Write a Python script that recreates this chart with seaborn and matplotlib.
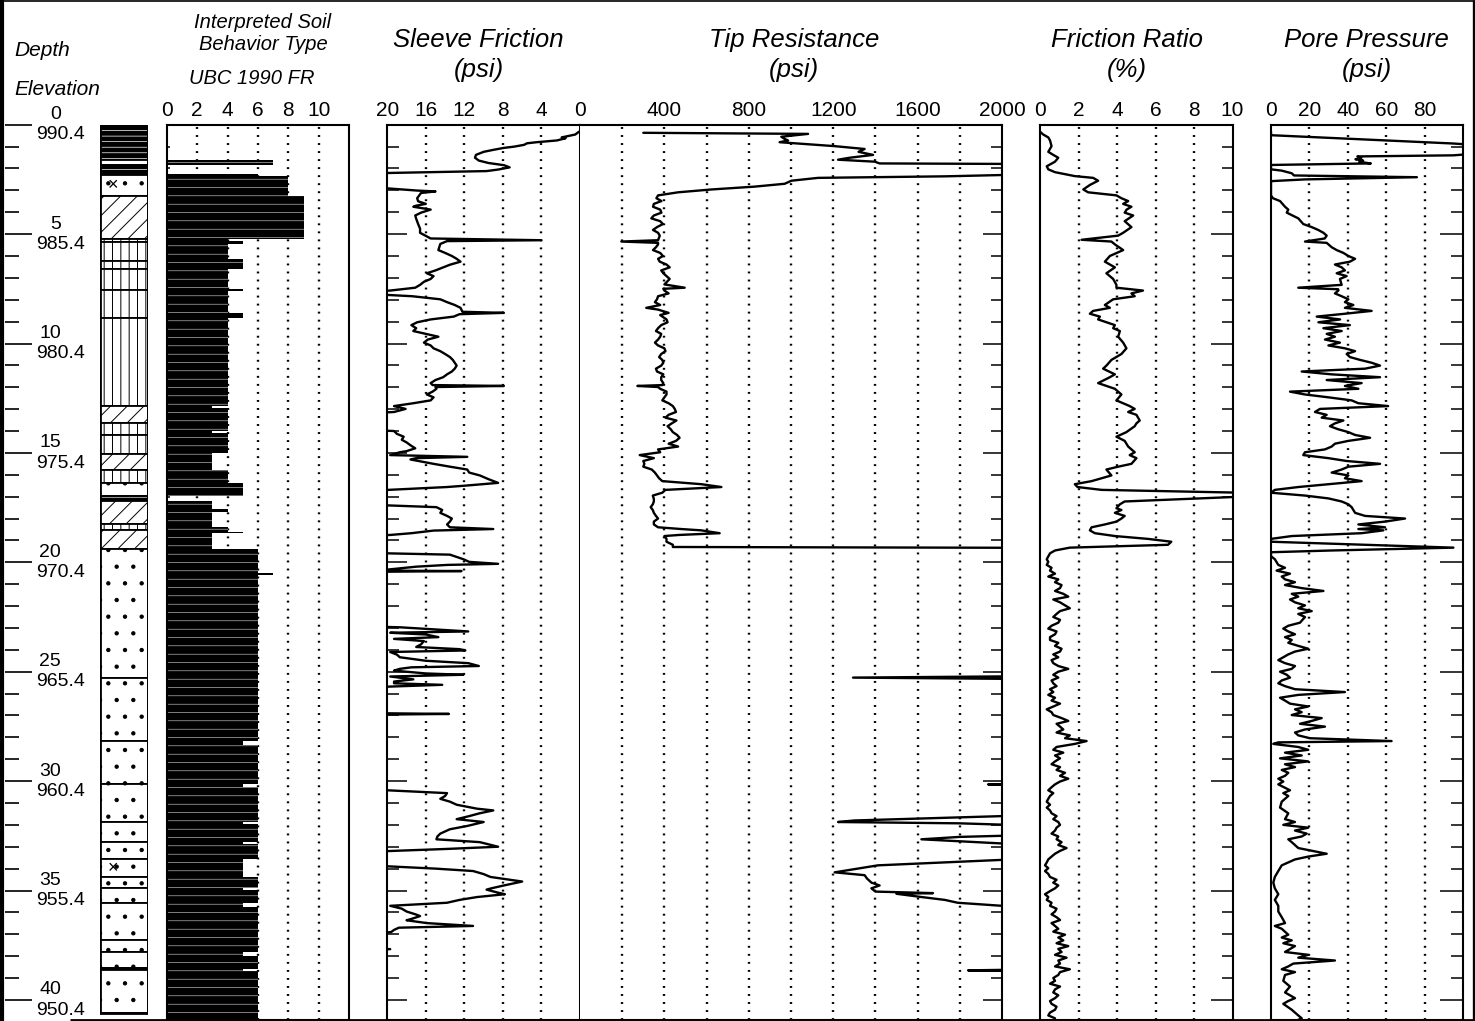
import numpy as np
import pandas as pd
import matplotlib
matplotlib.use("Agg")
import matplotlib.pyplot as plt
from matplotlib.ticker import MultipleLocator
from matplotlib.lines import Line2D
import seaborn as sns

# ---------------------------------------------------------------- data
ground_elevation = 990.4
depth_label_ft = [0, 5, 10, 15, 20, 25, 30, 35, 40]

# lithology column (depth ft)
litho_top = [0.00, 1.60, 1.86, 2.30, 3.28, 5.23, 5.34, 6.25, 6.60, 7.55, 8.82,
             12.86, 13.65, 14.18, 15.05, 15.77, 16.37, 16.95, 17.22, 18.27, 18.54,
             19.38, 25.27, 28.17, 30.15, 31.87, 32.79, 33.58, 34.38, 34.90, 35.57,
             37.28, 37.81, 38.55, 38.65]
litho_bot = litho_top[1:] + [40.58]
litho_kind = ["clay", "sand", "clay", "gravel", "silty", "silt", "silt", "silt", "silt", "silt", "silt",
              "silty", "silt", "silt", "silty", "silt", "sand", "clay", "silty", "silt", "silty",
              "sand", "sand", "sand", "sand", "sand", "sand", "gravel", "sand", "sand", "sand",
              "sand", "sand", "clay", "sand"]

# interpreted soil behaviour type (UBC 1990 FR)
sbt_top = [1.60, 2.27, 2.36, 3.28, 5.23, 5.30, 5.43, 6.15, 6.60, 7.50, 7.58, 8.62, 8.82,
           12.86, 12.95, 13.98, 14.10, 15.00, 15.77, 16.37, 17.22, 17.55, 17.68, 18.40,
           18.60, 18.67, 19.38, 20.48, 20.56, 28.17, 28.35, 30.15, 30.28, 31.87, 31.95,
           32.79, 32.87, 33.58, 34.38, 34.90, 34.98, 35.57, 35.75, 37.81, 38.00, 38.60, 38.66]
sbt_bot = [1.86, 2.36, 3.28, 5.23, 5.30, 5.43, 6.15, 6.60, 7.50, 7.58, 8.62, 8.82, 12.86,
           12.95, 13.98, 14.10, 15.00, 15.77, 16.37, 16.95, 17.55, 17.68, 18.40, 18.60,
           18.67, 19.38, 20.48, 20.56, 28.17, 28.35, 30.15, 30.28, 31.87, 31.95, 32.79,
           32.87, 33.58, 34.38, 34.90, 34.98, 35.57, 35.75, 37.81, 38.00, 38.60, 38.66, 41.0]
sbt_zone = [7, 6, 8, 9, 4, 5, 4, 5, 4, 5, 4, 5, 4,
            3, 4, 3, 4, 3, 4, 5, 3, 4, 3, 4,
            5, 3, 6, 7, 6, 5, 6, 5, 6, 5, 6,
            5, 6, 5, 6, 5, 6, 5, 6, 5, 6, 5, 6]

sbt_ticks = [0, 2, 4, 6, 8, 10]
sleeve_ticks = [20, 16, 12, 8, 4, 0]
tip_ticks = [400, 800, 1200, 1600, 2000]
fr_ticks = [0, 2, 4, 6, 8, 10]
pp_ticks = [0, 20, 40, 60, 80]

# (depth ft, sleeve friction psi)
sleeve_friction = [
    (0.32, 0.1), (0.45, 0.5), (0.58, 1.9), (0.62, 1.5), (0.72, 2.4), (0.80, 4.5), (0.85, 5.5),
    (0.92, 5.8), (1.00, 6.8), (1.06, 7.9), (1.15, 9.0), (1.24, 10.0), (1.38, 10.8), (1.51, 10.9),
    (1.64, 10.5), (1.75, 9.5), (1.85, 7.9), (1.95, 7.3), (2.05, 8.5), (2.12, 9.7), (2.25, 25),
    (2.80, 25), (2.91, 20), (3.01, 16.9), (3.05, 15.0), (3.12, 16.5), (3.36, 16.9), (3.50, 16.8),
    (3.62, 16.0), (3.70, 17.0), (3.75, 17.3), (3.88, 15.5), (4.02, 16.5), (4.15, 17.1),
    (4.30, 17.0), (4.54, 16.8), (4.75, 16.6), (4.94, 16.6), (5.20, 15.5), (5.28, 4.0),
    (5.32, 13.8), (5.45, 14.5), (5.73, 14.7), (5.86, 14.0), (6.00, 13.3), (6.13, 12.8),
    (6.26, 12.4), (6.40, 13.5), (6.52, 14.2), (6.66, 15.0), (6.79, 15.9), (6.92, 15.2),
    (7.05, 15.5), (7.18, 16.2), (7.32, 16.6), (7.45, 17.1), (7.58, 19.7), (7.68, 25),
    (7.78, 20), (7.84, 17.4), (7.98, 14.5), (8.11, 13.8), (8.24, 13.0), (8.37, 12.4),
    (8.55, 12.2), (8.60, 7.9), (8.66, 12.5), (8.77, 13.1), (8.90, 15.5), (9.03, 16.9),
    (9.16, 17.5), (9.30, 17.0), (9.43, 17.3), (9.56, 16.0), (9.69, 14.7), (9.82, 15.8),
    (9.96, 16.2), (10.09, 15.5), (10.22, 15.2), (10.35, 14.5), (10.48, 14.0), (10.62, 13.5),
    (10.75, 13.2), (10.88, 13.0), (11.01, 12.8), (11.15, 13.0), (11.28, 13.3), (11.41, 13.8),
    (11.54, 14.2), (11.67, 15.0), (11.81, 15.5), (11.90, 15.3), (11.94, 7.9), (11.99, 15.0),
    (12.07, 14.9), (12.20, 15.3), (12.33, 15.9), (12.46, 15.2), (12.60, 15.5), (12.73, 17.3),
    (12.86, 19.3), (12.99, 18.1), (13.13, 19.3), (13.26, 25), (13.90, 25), (14.00, 19.3),
    (14.13, 19.0), (14.26, 18.3), (14.40, 18.5), (14.52, 18.0), (14.65, 17.6), (14.79, 17.1),
    (14.92, 18.0), (14.97, 18.7), (15.10, 19.7), (15.18, 11.7), (15.24, 17.0), (15.30, 17.6),
    (15.50, 15.2), (15.63, 13.5), (15.76, 11.7), (15.90, 11.5), (16.03, 10.4), (16.20, 9.5),
    (16.37, 8.5), (16.50, 12.0), (16.56, 13.8), (16.69, 19.9), (16.75, 25), (17.30, 25),
    (17.40, 19.9), (17.48, 14.9), (17.61, 14.3), (17.74, 14.5), (17.88, 13.8), (18.00, 13.3),
    (18.14, 13.5), (18.27, 13.8), (18.40, 13.5), (18.48, 9.0), (18.55, 15.2), (18.67, 17.5),
    (18.75, 19.7), (18.85, 25), (19.50, 25), (19.59, 20), (19.65, 13.5), (19.86, 12.1),
    (19.98, 11.5), (20.07, 8.5), (20.12, 13.8), (20.20, 17.0), (20.33, 19.9), (20.37, 25),
    (20.40, 12.3), (20.45, 25), (22.90, 25), (22.97, 18.7), (23.03, 16.5), (23.10, 14.0),
    (23.16, 11.6), (23.22, 19.7), (23.30, 16.0), (23.42, 14.7), (23.50, 19.3), (23.60, 16.2),
    (23.75, 16.5), (23.87, 17.0), (23.97, 12.5), (24.03, 11.9), (24.10, 19.7), (24.22, 19.0),
    (24.34, 18.7), (24.50, 16.0), (24.61, 11.6), (24.74, 10.5), (24.80, 17.5), (24.87, 18.7),
    (24.95, 19.3), (25.08, 16.0), (25.14, 12.1), (25.22, 19.7), (25.35, 17.3), (25.45, 19.3),
    (25.53, 19.3), (25.60, 14.3), (25.68, 19.7), (25.80, 25), (26.88, 25), (26.93, 13.6),
    (26.98, 25), (30.30, 25), (30.42, 20), (30.55, 13.8), (30.68, 14.0), (30.81, 14.5),
    (30.94, 13.5), (31.08, 12.8), (31.26, 10.7), (31.34, 9.0), (31.47, 10.4), (31.60, 11.5),
    (31.74, 12.8), (31.87, 10.0), (32.05, 11.7), (32.20, 13.5), (32.40, 14.5), (32.53, 14.8),
    (32.66, 14.9), (32.79, 10.4), (33.00, 8.5), (33.10, 13.8), (33.20, 19.9), (33.28, 25),
    (33.80, 25), (33.90, 19.7), (34.00, 15.0), (34.11, 11.1), (34.25, 10.0), (34.38, 9.3),
    (34.59, 6.0), (34.77, 7.9), (34.90, 9.2), (34.96, 9.7), (35.10, 8.5), (35.17, 7.8),
    (35.30, 10.7), (35.43, 12.5), (35.56, 13.8), (35.70, 19.7), (35.83, 18.5), (35.96, 18.0),
    (36.10, 17.0), (36.17, 16.6), (36.30, 17.5), (36.36, 18.0), (36.49, 15.9), (36.62, 11.1),
    (36.70, 18.8), (36.80, 19.3), (36.90, 19.6), (37.10, 25), (37.60, 25), (37.68, 19.7),
    (37.75, 25), (40.90, 25)]

# (depth ft, tip resistance psi)
tip_resistance = [
    (0.37, 300), (0.42, 1081), (0.55, 954), (0.65, 970), (0.72, 986), (0.80, 946), (0.98, 1207),
    (1.11, 1349), (1.24, 1320), (1.38, 1389), (1.51, 1278), (1.60, 1223), (1.69, 1397),
    (1.77, 1420), (1.80, 2200), (2.28, 2200), (2.30, 2000), (2.36, 1729), (2.43, 1128),
    (2.56, 1002), (2.70, 970), (2.83, 828), (2.96, 623), (3.09, 465), (3.23, 370), (3.36, 362),
    (3.49, 386), (3.62, 350), (3.75, 346), (3.88, 380), (4.02, 386), (4.15, 350), (4.28, 338),
    (4.41, 380), (4.54, 393), (4.68, 365), (4.81, 346), (4.94, 370), (5.07, 378), (5.28, 370),
    (5.34, 196), (5.40, 370), (5.47, 370), (5.60, 360), (5.73, 346), (5.86, 380), (6.00, 393),
    (6.13, 370), (6.26, 378), (6.39, 410), (6.52, 425), (6.66, 385), (6.79, 395), (6.92, 410),
    (7.05, 425), (7.30, 400), (7.45, 496), (7.50, 395), (7.58, 400), (7.71, 420), (7.84, 370),
    (7.98, 365), (8.11, 355), (8.24, 380), (8.37, 314), (8.45, 370), (8.60, 420), (8.70, 380),
    (8.90, 410), (9.03, 415), (9.16, 385), (9.30, 370), (9.43, 360), (9.56, 385), (9.69, 380),
    (9.82, 370), (9.96, 355), (10.09, 370), (10.22, 400), (10.35, 405), (10.48, 385),
    (10.62, 375), (10.75, 390), (10.88, 395), (11.01, 385), (11.15, 360), (11.28, 365),
    (11.41, 395), (11.54, 385), (11.67, 385), (11.81, 395), (11.90, 390), (11.94, 272),
    (11.99, 370), (12.07, 380), (12.20, 410), (12.33, 410), (12.46, 400), (12.60, 390),
    (12.73, 420), (12.86, 440), (12.99, 449), (13.13, 455), (13.26, 420), (13.39, 405),
    (13.52, 457), (13.65, 435), (13.78, 415), (13.92, 430), (14.05, 440), (14.18, 460),
    (14.31, 472), (14.45, 455), (14.58, 420), (14.71, 465), (14.84, 370), (14.97, 380),
    (15.10, 283), (15.24, 350), (15.37, 300), (15.50, 305), (15.63, 300), (15.76, 340),
    (15.90, 355), (16.03, 365), (16.16, 375), (16.29, 390), (16.43, 575), (16.56, 670),
    (16.69, 405), (16.82, 390), (16.95, 345), (17.10, 350), (17.22, 350), (17.35, 345),
    (17.48, 335), (17.61, 345), (17.74, 350), (17.88, 360), (18.00, 370), (18.14, 350),
    (18.27, 350), (18.40, 370), (18.48, 480), (18.54, 575), (18.67, 662), (18.75, 470),
    (18.80, 400), (18.93, 410), (19.06, 410), (19.20, 440), (19.30, 440), (19.34, 2200),
    (25.20, 2200), (25.27, 1294), (25.34, 2200), (30.10, 2200), (30.15, 1934), (30.20, 2200),
    (31.45, 2200), (31.60, 2000), (31.80, 1300), (31.87, 1223), (31.93, 1800), (32.05, 2200),
    (32.45, 2200), (32.55, 1800), (32.66, 1618), (32.85, 2000), (32.95, 2200), (33.50, 2200),
    (33.60, 2000), (33.85, 1412), (34.17, 1207), (34.30, 1349), (34.45, 1360), (34.64, 1381),
    (34.77, 1420), (34.90, 1381), (35.05, 1400), (35.12, 1673), (35.15, 1500), (35.30, 1620),
    (35.43, 1729), (35.56, 1790), (35.70, 2000), (35.78, 2200), (38.60, 2200), (38.65, 1839),
    (38.70, 2200), (40.90, 2200)]

# (depth ft, friction ratio %)
friction_ratio = [
    (0.32, 0.0), (0.45, 0.17), (0.58, 0.43), (0.72, 0.52), (0.98, 0.60), (1.24, 0.43),
    (1.38, 0.69), (1.51, 0.95), (1.69, 0.78), (1.90, 0.35), (2.04, 0.43), (2.17, 0.78),
    (2.35, 1.81), (2.43, 2.76), (2.56, 3.02), (2.75, 2.60), (2.96, 2.25), (3.09, 2.50),
    (3.23, 3.97), (3.36, 4.23), (3.49, 4.58), (3.62, 4.32), (3.75, 4.75), (3.88, 4.50),
    (4.02, 4.40), (4.15, 4.84), (4.41, 4.40), (4.68, 4.75), (4.94, 4.32), (5.07, 4.06),
    (5.26, 2.16), (5.34, 3.71), (5.47, 3.89), (5.73, 4.32), (6.00, 3.63), (6.26, 3.37),
    (6.52, 3.89), (6.79, 3.45), (7.05, 3.80), (7.32, 3.97), (7.45, 3.97), (7.58, 5.35),
    (7.71, 4.75), (7.84, 4.92), (7.98, 3.80), (8.24, 3.37), (8.37, 3.63), (8.51, 2.76),
    (8.64, 2.59), (8.77, 3.11), (8.90, 3.02), (9.03, 3.45), (9.16, 3.89), (9.30, 3.80),
    (9.43, 4.15), (9.69, 4.06), (9.96, 4.32), (10.22, 4.49), (10.48, 4.23), (10.75, 3.71),
    (11.01, 3.45), (11.15, 3.28), (11.41, 3.89), (11.54, 3.63), (11.81, 3.02), (11.94, 3.45),
    (12.07, 3.89), (12.33, 4.23), (12.60, 3.97), (12.86, 4.66), (12.99, 4.92), (13.13, 4.58),
    (13.26, 5.01), (13.52, 5.18), (13.65, 5.01), (13.78, 4.92), (14.05, 4.49), (14.26, 3.97),
    (14.45, 4.40), (14.71, 4.58), (14.97, 4.92), (15.10, 4.66), (15.24, 5.01), (15.50, 4.75),
    (15.63, 4.06), (15.76, 3.45), (16.03, 3.71), (16.29, 2.68), (16.43, 1.81), (16.56, 1.95),
    (16.69, 3.20), (16.82, 10.5), (17.00, 10.5), (17.22, 4.40), (17.35, 4.15), (17.53, 3.97),
    (17.61, 4.23), (17.74, 3.89), (17.88, 4.40), (18.00, 4.23), (18.14, 3.97), (18.27, 3.37),
    (18.40, 2.68), (18.54, 2.59), (18.67, 2.85), (18.80, 3.89), (18.93, 5.61), (19.06, 6.82),
    (19.20, 6.65), (19.33, 1.55), (19.46, 0.78), (19.59, 0.52), (19.86, 0.35), (19.98, 0.43),
    (20.12, 0.35), (20.25, 0.60), (20.38, 0.52), (20.52, 0.78), (20.65, 0.43), (20.78, 0.95),
    (20.91, 0.78), (21.04, 1.12), (21.18, 1.04), (21.31, 0.78), (21.44, 1.21), (21.57, 1.47),
    (21.70, 0.69), (21.83, 1.04), (21.97, 1.30), (22.10, 1.55), (22.23, 1.04), (22.36, 0.86),
    (22.50, 0.69), (22.63, 1.04), (22.76, 0.95), (22.90, 0.60), (23.03, 0.43), (23.16, 0.86),
    (23.29, 0.78), (23.42, 0.52), (23.55, 0.52), (23.68, 0.95), (23.82, 0.78), (23.95, 1.12),
    (24.08, 1.04), (24.21, 0.69), (24.34, 0.95), (24.47, 0.60), (24.61, 0.69), (24.74, 0.95),
    (24.87, 1.47), (25.00, 0.95), (25.14, 0.69), (25.27, 0.95), (25.40, 0.60), (25.53, 0.69),
    (25.66, 0.86), (25.80, 0.52), (25.93, 0.69), (26.06, 0.43), (26.19, 0.78), (26.32, 0.60),
    (26.46, 1.04), (26.59, 0.69), (26.72, 0.35), (26.85, 0.60), (26.98, 0.69), (27.12, 1.12),
    (27.25, 1.47), (27.38, 0.86), (27.51, 1.04), (27.64, 1.21), (27.78, 0.86), (27.91, 1.55),
    (28.04, 1.30), (28.17, 2.42), (28.30, 1.81), (28.44, 0.86), (28.57, 0.69), (28.70, 1.21),
    (28.83, 0.78), (28.96, 1.04), (29.10, 0.78), (29.23, 0.60), (29.36, 1.04), (29.49, 0.86),
    (29.62, 1.30), (29.76, 1.04), (29.89, 1.47), (30.02, 1.04), (30.15, 0.78), (30.28, 0.60),
    (30.42, 0.43), (30.55, 0.69), (30.68, 0.52), (30.81, 0.43), (30.94, 0.35), (31.08, 0.52),
    (31.21, 0.35), (31.34, 0.52), (31.47, 0.60), (31.60, 0.86), (31.74, 0.69), (31.87, 0.95),
    (32.00, 1.04), (32.13, 0.86), (32.26, 0.78), (32.40, 0.60), (32.53, 0.95), (32.66, 0.86),
    (32.79, 1.12), (32.92, 0.95), (33.06, 1.38), (33.19, 1.04), (33.32, 0.78), (33.45, 0.60),
    (33.58, 0.43), (33.72, 0.35), (33.85, 0.26), (33.98, 0.43), (34.11, 0.26), (34.24, 0.43),
    (34.38, 0.52), (34.51, 0.86), (34.64, 0.69), (34.77, 0.95), (34.90, 0.78), (35.03, 0.52),
    (35.17, 0.26), (35.30, 0.43), (35.43, 0.35), (35.56, 0.60), (35.70, 0.52), (35.83, 0.86),
    (35.96, 0.78), (36.09, 0.60), (36.22, 0.86), (36.35, 1.04), (36.49, 0.60), (36.62, 0.78),
    (36.75, 0.95), (36.88, 0.69), (37.02, 1.30), (37.15, 0.95), (37.28, 1.21), (37.41, 0.86),
    (37.54, 1.47), (37.67, 0.95), (37.81, 1.12), (37.94, 0.78), (38.07, 1.38), (38.20, 0.95),
    (38.34, 1.04), (38.47, 0.78), (38.60, 1.55), (38.73, 1.04), (38.86, 0.95), (39.00, 0.69),
    (39.13, 0.78), (39.26, 0.52), (39.39, 1.04), (39.52, 0.78), (39.66, 0.69), (39.79, 0.95),
    (39.92, 0.78), (40.05, 0.52), (40.18, 0.60), (40.31, 0.86), (40.45, 0.78), (40.58, 0.52),
    (40.71, 0.43), (40.84, 0.78), (40.98, 0.69)]

# (depth ft, pore pressure psi)
pore_pressure = [
    (0.32, 0), (0.48, 0), (0.86, 95), (0.95, 110), (1.30, 110), (1.40, 95), (1.45, 45),
    (1.52, 47), (1.58, 44), (1.64, 48), (1.70, 46), (1.77, 52), (1.84, 0), (2.04, 0),
    (2.10, 5.6), (2.22, 10.8), (2.32, 12), (2.40, 76), (2.50, 17.7), (2.58, 0), (3.23, 0),
    (3.36, 1), (3.49, 4.7), (3.75, 7.3), (3.88, 9), (4.02, 8.2), (4.28, 14.2), (4.54, 16.8),
    (4.68, 21.2), (4.81, 24.6), (4.94, 27.3), (5.07, 29), (5.20, 28), (5.34, 17.7), (5.40, 29),
    (5.60, 31.6), (5.73, 34.2), (5.86, 37.7), (6.00, 40.3), (6.13, 43.8), (6.26, 41.1),
    (6.39, 33.3), (6.52, 36.8), (6.66, 38.5), (6.79, 34.2), (6.92, 39.4), (7.05, 35.9),
    (7.32, 36.8), (7.45, 14.2), (7.52, 35), (7.58, 35.1), (7.71, 33.3), (7.84, 36.8),
    (7.98, 40.3), (8.11, 38.5), (8.24, 42.9), (8.37, 38.5), (8.51, 52.4), (8.64, 38.5),
    (8.77, 23.8), (8.90, 36), (9.03, 24.7), (9.16, 41.1), (9.30, 27.3), (9.43, 36.8),
    (9.56, 29), (9.69, 33.3), (9.82, 28.1), (9.96, 35.9), (10.09, 29.9), (10.22, 38.5),
    (10.35, 43.8), (10.48, 39.4), (10.62, 41.1), (10.75, 46.4), (10.88, 52.4), (11.01, 56.8),
    (11.15, 49), (11.28, 16), (11.41, 31.6), (11.54, 56.8), (11.67, 29), (11.81, 47.2),
    (11.94, 38.5), (12.07, 45.5), (12.20, 9.9), (12.33, 17.7), (12.46, 29.9), (12.60, 42),
    (12.73, 45.5), (12.86, 61), (12.99, 25.5), (13.13, 22.9), (13.26, 29), (13.39, 26.4),
    (13.52, 37.7), (13.65, 33.3), (13.78, 30.7), (13.92, 35), (14.05, 40.3), (14.18, 43.8),
    (14.31, 51.6), (14.45, 40.3), (14.58, 33.3), (14.71, 31.6), (14.84, 28.1), (14.97, 17.7),
    (15.10, 16.8), (15.24, 29.9), (15.37, 39.4), (15.50, 56.8), (15.63, 40.3), (15.76, 36.8),
    (15.90, 31.6), (16.03, 40.3), (16.16, 38.5), (16.29, 47.2), (16.43, 29.9), (16.56, 14.2),
    (16.69, 2), (16.82, 0), (16.95, 17.7), (17.08, 29.9), (17.22, 36.8), (17.35, 40.3),
    (17.48, 42), (17.61, 42.9), (17.74, 43.8), (17.88, 49), (18.00, 69.8), (18.14, 59.4),
    (18.27, 45.5), (18.40, 59.4), (18.48, 45.5), (18.54, 58.5), (18.67, 47.2), (18.80, 10.8),
    (18.93, 0), (19.06, 0), (19.20, 49), (19.33, 95), (19.46, 31.6), (19.54, 0), (19.72, 0),
    (19.86, 2), (20.12, 3.8), (20.25, 7.3), (20.38, 2.9), (20.52, 9.9), (20.65, 5.6),
    (20.78, 7.3), (20.91, 12.5), (21.04, 7.3), (21.18, 16), (21.31, 27.3), (21.44, 10.8),
    (21.57, 14.2), (21.70, 9.9), (21.83, 12.5), (21.97, 17.7), (22.10, 14.2), (22.23, 21.2),
    (22.36, 14.2), (22.50, 17.7), (22.76, 15.1), (22.90, 9), (23.03, 6.4), (23.16, 9),
    (23.29, 12.5), (23.42, 7.3), (23.55, 10.8), (23.68, 9), (23.82, 14.2), (23.95, 19.4),
    (24.08, 12.5), (24.21, 9), (24.34, 6.4), (24.47, 3.8), (24.61, 7.3), (24.74, 12.5),
    (24.87, 10.8), (25.00, 4.7), (25.14, 8.2), (25.27, 9.9), (25.40, 5.6), (25.53, 3.8),
    (25.66, 7.3), (25.80, 12.5), (25.93, 38.5), (26.06, 14.2), (26.19, 4.7), (26.32, 7.3),
    (26.46, 9.9), (26.59, 19.4), (26.72, 12.5), (26.85, 16), (26.98, 10.8), (27.12, 26.4),
    (27.25, 21.2), (27.38, 15.1), (27.51, 28.1), (27.64, 17.7), (27.78, 12.5), (27.91, 14.2),
    (28.04, 20.3), (28.17, 62.8), (28.23, 3.8), (28.30, 1.2), (28.44, 14.2), (28.57, 19.4),
    (28.70, 7.3), (28.83, 16), (28.96, 4.7), (29.10, 19.4), (29.23, 7.3), (29.36, 12.5),
    (29.49, 5.6), (29.62, 9), (29.76, 7.3), (29.89, 3.8), (30.02, 6.4), (30.15, 3.8),
    (30.42, 9.9), (30.55, 6.4), (30.68, 9), (30.94, 5.6), (31.21, 4.7), (31.47, 9),
    (31.74, 7.3), (31.87, 12.5), (32.00, 6.4), (32.13, 19.4), (32.26, 12.5), (32.40, 18.6),
    (32.53, 16), (32.66, 9), (32.79, 10.8), (33.06, 14.2), (33.32, 29), (33.45, 19.4),
    (33.58, 12.5), (33.85, 5.6), (34.11, 3.8), (34.38, 2), (34.64, 1.2), (34.90, 2),
    (35.17, 3.8), (35.43, 2), (35.70, 3.8), (35.96, 3.8), (36.22, 5.6), (36.49, 7.3),
    (36.62, 2), (36.75, 5.6), (37.02, 9), (37.15, 5.6), (37.28, 10.8), (37.41, 6.4),
    (37.54, 12.5), (37.81, 7.3), (37.94, 19.4), (38.07, 14.2), (38.20, 33.3), (38.34, 11.6),
    (38.47, 9), (38.60, 5.6), (38.73, 12.5), (38.86, 7.3), (39.13, 6.4), (39.39, 9.9),
    (39.66, 7.3), (39.92, 12.5), (40.05, 9), (40.18, 6.4), (40.45, 10.8), (40.71, 14.2),
    (40.84, 16), (40.98, 12.5)]

# ---------------------------------------------------------------- style / layout
W, H = 1475, 1021
TOP_PX, BOT_PX = 124.7, 1020.0
PX_PER_FT = 21.88
DMAX = (BOT_PX - TOP_PX) / PX_PER_FT

sns.set_theme(style="white", rc={
    "axes.edgecolor": "black", "text.color": "black", "xtick.color": "black",
    "ytick.color": "black", "axes.labelcolor": "black", "axes.linewidth": 1.5,
    "hatch.linewidth": 0.5})
plt.rcParams["font.family"] = ["Liberation Sans", "DejaVu Sans"]
plt.rcParams["hatch.linewidth"] = 0.5

fig = plt.figure(figsize=(W / 100, H / 100), dpi=100)


def add_ax(x0, x1):
    return fig.add_axes([x0 / W, 1 - BOT_PX / H, (x1 - x0) / W, (BOT_PX - TOP_PX) / H])


DOT = (0, (0.8, 2.6))


def thin_hatch(container, lw):
    for p in container:
        if hasattr(p, "set_hatch_linewidth"):
            p.set_hatch_linewidth(lw)


def setup_panel(ax, xlim, ticks, grid, side=None, maj=0, mnr=0):
    ax.set_xlim(*xlim)
    ax.set_ylim(DMAX, 0)
    ax.set_xlabel("")
    ax.set_ylabel("")
    ax.xaxis.tick_top()
    ax.set_xticks(ticks)
    ax.set_xticklabels([str(t) for t in ticks])
    ax.tick_params(axis="x", which="both", length=0, pad=3.5, labelsize=15,
                   top=True, bottom=False, labeltop=True, labelbottom=False)
    for g in grid:
        ax.axvline(g, color="black", lw=1.7, ls=DOT, zorder=0.5)
    ax.yaxis.set_major_locator(MultipleLocator(5))
    ax.yaxis.set_minor_locator(MultipleLocator(1))
    ax.tick_params(axis="y", which="both", left=(side == "left"), right=(side == "right"),
                   labelleft=False, labelright=False, direction="in", width=1.1,
                   color="black")
    ax.tick_params(axis="y", which="major", length=maj)
    ax.tick_params(axis="y", which="minor", length=mnr)
    for s in ax.spines.values():
        s.set_linewidth(1.5)
        s.set_color("black")


def curve(ax, data, xlim):
    df = pd.DataFrame(data, columns=["depth", "value"])
    sns.lineplot(data=df, x="value", y="depth", sort=False, estimator=None, orient="y",
                 color="black", linewidth=1.7, ax=ax, legend=False, zorder=3)
    ax.set_xlim(*xlim)
    ax.set_ylim(DMAX, 0)
    ax.set_xlabel("")
    ax.set_ylabel("")


# ---- depth axis
axd = add_ax(5, 100)
axd.set_ylim(DMAX, 0)
axd.set_xlim(0, 1)
for s in axd.spines.values():
    s.set_visible(False)
axd.set_xticks([])
axd.yaxis.set_major_locator(MultipleLocator(5))
axd.yaxis.set_minor_locator(MultipleLocator(1))
axd.tick_params(axis="y", which="both", left=True, right=False, labelleft=False,
                direction="in", width=1.2, color="black")
axd.tick_params(axis="y", which="major", length=19.4)
axd.tick_params(axis="y", which="minor", length=10)
for d in depth_label_ft:
    axd.annotate(f"{d}", xy=((61 - 5) / 95, d), xycoords=("axes fraction", "data"),
                 xytext=(0, 7.2), textcoords="offset points", ha="right", va="center",
                 fontsize=14, annotation_clip=False)
    axd.annotate(f"{ground_elevation - d:.1f}", xy=((85 - 5) / 95, d),
                 xycoords=("axes fraction", "data"), xytext=(0, -7.4),
                 textcoords="offset points", ha="right", va="center", fontsize=14,
                 annotation_clip=False)

# ---- lithology column
axl = add_ax(100, 148)
axl.set_ylim(DMAX, 0)
axl.set_xlim(0, 1)
axl.axis("off")
styles = {"clay": dict(color="black", edgecolor="white", hatch="---"),
          "sand": dict(color="white", edgecolor="black", hatch="."),
          "gravel": dict(color="white", edgecolor="black", hatch="."),
          "silty": dict(color="white", edgecolor="black", hatch="//"),
          "silt": dict(color="white", edgecolor="black", hatch="||")}
hatch_lw = {"clay": 0.5, "sand": 0.7, "gravel": 0.7, "silty": 0.7, "silt": 0.7}
for t, b, k in zip(litho_top, litho_bot, litho_kind):
    with plt.rc_context({"hatch.linewidth": hatch_lw[k]}):
        bc = axl.barh(t, 1, height=b - t, left=0, align="edge", linewidth=0, **styles[k])
    thin_hatch(bc, hatch_lw[k])
    axl.barh(t, 1, height=b - t, left=0, align="edge", fill=False, edgecolor="black",
             linewidth=1.3)
    if k == "gravel":
        axl.text(0.28, (t + b) / 2, "×", ha="center", va="center", fontsize=13)
axl.barh(litho_top[0], 1, height=litho_bot[-1] - litho_top[0], left=0, align="edge",
         fill=False, edgecolor="black", linewidth=2.0)

# ---- soil behaviour type
axs = add_ax(166.7, 349.3)
setup_panel(axs, (0, 12), sbt_ticks, sbt_ticks[1:], side="left", maj=2.5, mnr=2.5)
sbt_w = np.array(sbt_zone, dtype=float)
with plt.rc_context({"hatch.linewidth": 0.35}):
    bars = axs.barh(sbt_top, sbt_w, height=np.array(sbt_bot) - np.array(sbt_top), left=0,
                    align="edge", color="black", edgecolor="white", linewidth=0,
                    hatch="--", zorder=2)
thin_hatch(bars, 0.35)

# ---- sleeve friction
axf = add_ax(387.3, 580)
setup_panel(axf, (20, 0), sleeve_ticks, [16, 12, 8, 4], side="left", maj=14.4, mnr=8.6)
axf.spines["right"].set_linewidth(2.2)
curve(axf, sleeve_friction, (20, 0))

# ---- tip resistance
axt = add_ax(580, 1002)
setup_panel(axt, (0, 2000), tip_ticks, [200, 400, 600, 800, 1000, 1200, 1400, 1600, 1800],
            side="right", maj=13.7, mnr=7.9)
axt.spines["left"].set_visible(False)
curve(axt, tip_resistance, (0, 2000))

# ---- friction ratio
axr = add_ax(1040, 1232.5)
setup_panel(axr, (0, 10), fr_ticks, [2, 4, 6, 8], side="right", maj=15.8, mnr=7.9)
curve(axr, friction_ratio, (0, 10))

# ---- pore pressure
axp = add_ax(1271, 1463)
setup_panel(axp, (0, 100), pp_ticks, [20, 40, 60, 80], side="right", maj=16.6, mnr=8.6)
curve(axp, pore_pressure, (0, 100))

# ---------------------------------------------------------------- headers
def ftext(x, y, s, **kw):
    fig.text(x / W, 1 - y / H, s, ha="center", va="center", style="italic", **kw)


ftext(263, 23, "Interpreted Soil", fontsize=14.5)
ftext(263, 45, "Behavior Type", fontsize=14.5)
ftext(252, 79, "UBC 1990 FR", fontsize=14.5)
fig.text(14 / W, 1 - 51 / H, "Depth", ha="left", va="center", style="italic", fontsize=15)
fig.text(14 / W, 1 - 89 / H, "Elevation", ha="left", va="center", style="italic", fontsize=15)
ftext(478.5, 40, "Sleeve Friction", fontsize=18.5)
ftext(478.5, 70, "(psi)", fontsize=18.5)
ftext(794, 40, "Tip Resistance", fontsize=18.5)
ftext(794, 70, "(psi)", fontsize=18.5)
ftext(1127, 40, "Friction Ratio", fontsize=18.5)
ftext(1127, 70, "(%)", fontsize=18.5)
ftext(1366.5, 40, "Pore Pressure", fontsize=18.5)
ftext(1366.5, 70, "(psi)", fontsize=18.5)

# ---------------------------------------------------------------- frame
def fline(x0, y0, x1, y1, lw):
    fig.add_artist(Line2D([x0 / W, x1 / W], [1 - y0 / H, 1 - y1 / H],
                          transform=fig.transFigure, color="black", lw=lw,
                          solid_capstyle="butt"))


fline(2, 0, 2, H, 3.0)
fline(1473.5, 0, 1473.5, H, 2.4)
fline(0, 0.6, W, 0.6, 1.2)
fline(70, 1020, W, 1020, 2.0)

fig.savefig("out.png", dpi=100)
